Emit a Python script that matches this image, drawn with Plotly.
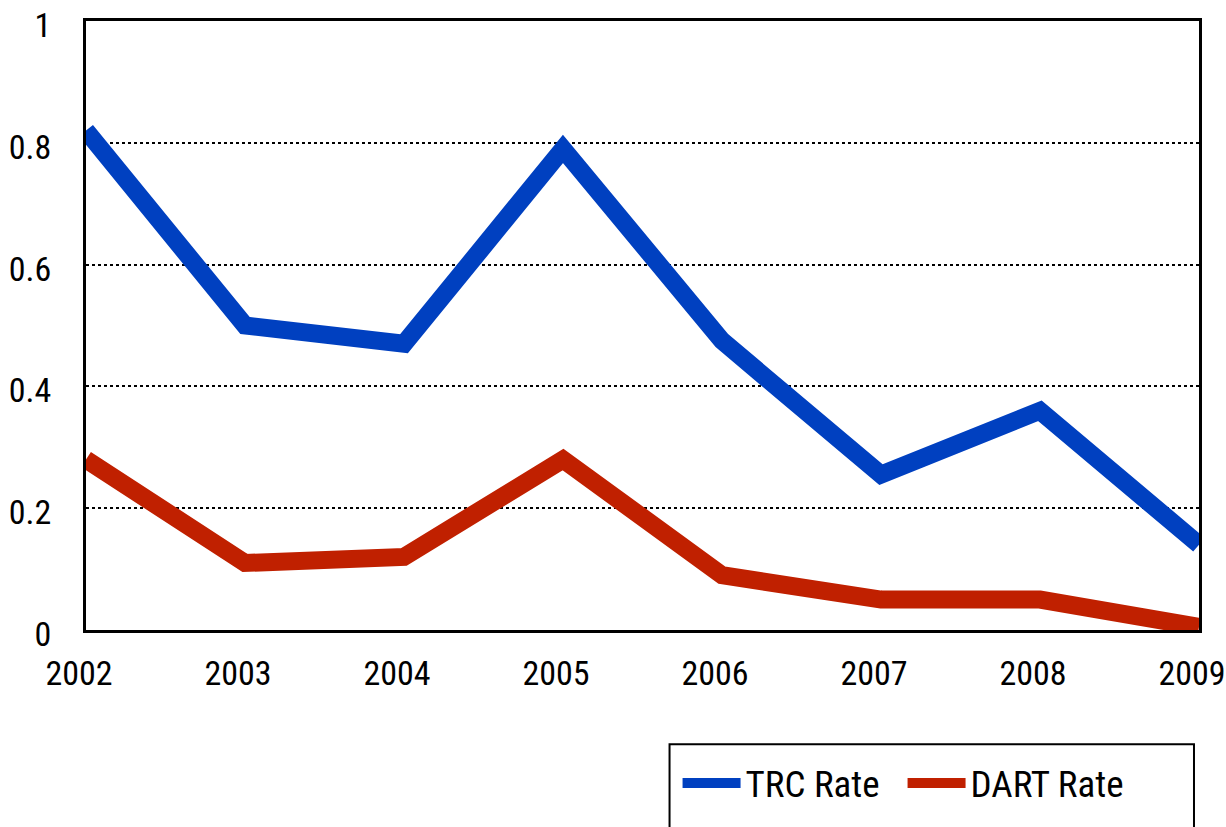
import plotly.graph_objects as go

years = [2002, 2003, 2004, 2005, 2006, 2007, 2008, 2009]
trc_rate = [0.82, 0.50, 0.47, 0.79, 0.475, 0.255, 0.36, 0.14]
dart_rate = [0.28, 0.11, 0.12, 0.28, 0.09, 0.05, 0.05, 0.005]
y_ticks = [0, 0.2, 0.4, 0.6, 0.8, 1]
y_tick_labels = ["0", "0.2", "0.4", "0.6", "0.8", "1"]

FONT = "Liberation Sans Narrow, Arial Narrow, Roboto Condensed, DejaVu Sans Condensed, Liberation Sans, sans-serif"

fig = go.Figure()
fig.add_trace(go.Scatter(x=years, y=trc_rate, mode="lines", name="TRC Rate",
                         line=dict(color="#0040C0", width=18), cliponaxis=False))
fig.add_trace(go.Scatter(x=years, y=dart_rate, mode="lines", name="DART Rate",
                         line=dict(color="#C02000", width=18), cliponaxis=False))

# legend frame
fig.add_shape(type="rect", xref="paper", yref="paper",
              x0=0.5243, x1=0.9955, y0=-0.34, y1=-0.1876,
              line=dict(color="black", width=2), fillcolor="white", layer="below")

fig.update_layout(
    width=1226, height=827,
    margin=dict(l=86, r=27, t=21, b=193),
    paper_bgcolor="white", plot_bgcolor="white",
    font=dict(family=FONT, size=34, color="black"),
    showlegend=True,
    legend=dict(orientation="h", x=0.5315, xanchor="left", y=-0.252, yanchor="middle",
                borderwidth=0, bgcolor="rgba(0,0,0,0)",
                font=dict(family=FONT, size=37, color="black"),
                itemwidth=58, traceorder="normal",
                entrywidth=152, entrywidthmode="pixels"),
)
fig.update_xaxes(range=[2002, 2009], tickvals=years, ticktext=[str(y) for y in years],
                 showgrid=False, zeroline=False, showline=True, linecolor="black",
                 linewidth=3, mirror=True, ticks="", ticklabelstandoff=11,
                 ticklabelshift=-7,
                 automargin=False, ticklabeloverflow="allow")
fig.update_yaxes(range=[0, 1], tickvals=y_ticks, ticktext=y_tick_labels,
                 showgrid=True, gridcolor="black", griddash="dot", gridwidth=2,
                 zeroline=False, showline=True, linecolor="black", linewidth=3,
                 mirror=True, ticks="", ticklabelstandoff=25, ticklabelshift=4,
                 automargin=False, ticklabeloverflow="allow")

fig.write_html(
    "out.html",
    config={"displayModeBar": False},
    post_script=("document.body.style.margin='0';"
                 "document.body.style.overflow='hidden';"
                 "document.documentElement.style.overflow='hidden';"
                 "window.scrollTo(0,0);"),
)
